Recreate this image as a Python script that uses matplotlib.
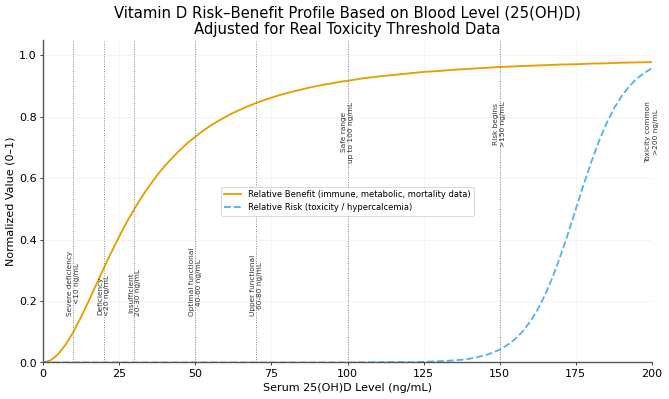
import matplotlib

matplotlib.use("Agg")

import matplotlib.pyplot as plt


# serum 25(OH)D level, ng/mL, and the values
benefit_levels = [0, 2.5, 5, 7.5, 10, 12.5, 15, 17.5, 20, 22.5, 25, 27.5, 30,
                  32.5, 35, 37.5, 40, 42.5, 45, 47.5, 50, 52.5, 55, 57.5, 60,
                  62.5, 65, 67.5, 70, 72.5, 75, 77.5, 80, 82.5, 85, 87.5, 90,
                  92.5, 95, 97.5, 100, 105, 110, 115, 120, 125, 130, 135, 140,
                  145, 150, 155, 160, 165, 170, 175, 180, 185, 190, 195, 200]
benefit = [0.000, 0.007, 0.027, 0.059, 0.100, 0.148, 0.200, 0.254, 0.308, 0.360,
           0.410, 0.457, 0.500, 0.540, 0.576, 0.610, 0.640, 0.667, 0.692, 0.715,
           0.735, 0.754, 0.771, 0.786, 0.800, 0.813, 0.824, 0.835, 0.845, 0.854,
           0.862, 0.870, 0.877, 0.883, 0.889, 0.895, 0.900, 0.905, 0.909, 0.914,
           0.917, 0.925, 0.931, 0.936, 0.941, 0.946, 0.949, 0.953, 0.956, 0.959,
           0.962, 0.964, 0.966, 0.968, 0.970, 0.971, 0.973, 0.974, 0.976, 0.977,
           0.978]

risk_levels = [0, 10, 20, 30, 40, 50, 60, 70, 80, 90, 100, 110, 120, 125, 127.5,
               130, 132.5, 135, 137.5, 140, 142.5, 145, 147.5, 150, 152.5, 155,
               157.5, 160, 162.5, 165, 167.5, 170, 172.5, 175, 177.5, 180, 182.5,
               185, 187.5, 190, 192.5, 195, 197.5, 200]
risk = [0.000, 0.000, 0.000, 0.000, 0.000, 0.000, 0.000, 0.000, 0.000, 0.000,
        0.000, 0.001, 0.001, 0.002, 0.003, 0.004, 0.005, 0.007, 0.009, 0.012,
        0.017, 0.023, 0.031, 0.042, 0.057, 0.076, 0.101, 0.133, 0.173, 0.223,
        0.281, 0.349, 0.422, 0.500, 0.578, 0.651, 0.719, 0.777, 0.827, 0.867,
        0.899, 0.924, 0.943, 0.958]

thresholds = [10, 20, 30, 50, 70, 100, 150, 200]
threshold_labels = [
    "Severe deficiency\n<10 ng/mL",
    "Deficiency\n<20 ng/mL",
    "Insufficient\n20-30 ng/mL",
    "Optimal functional\n40-60 ng/mL",
    "Upper functional\n60-80 ng/mL",
    "Safe range\nup to 100 ng/mL",
    "Risk begins\n>150 ng/mL",
    "Toxicity common\n>200 ng/mL",
]


def main():
    fig, ax = plt.subplots(figsize=(10, 5.965), dpi=66.9)
    fig.subplots_adjust(left=0.0643, right=0.9746, bottom=0.0915, top=0.8997)

    ax.plot(benefit_levels, benefit, color="#E69F00", linewidth=2,
            label="Relative Benefit (immune, metabolic, mortality data)")
    ax.plot(risk_levels, risk, color="#56B4E9", linewidth=2, linestyle="--",
            label="Relative Risk (toxicity / hypercalcemia)")

    for x, text in zip(thresholds, threshold_labels):
        ax.axvline(x, color="grey", linestyle=":", linewidth=1)
        # low thresholds get their note near the bottom, high ones near the top
        if x <= 70:
            ax.text(x, 0.15, text, rotation=90, ha="center", va="bottom",
                    fontsize=8, color="#333333", multialignment="center")
        else:
            ax.text(x, 0.85, text, rotation=90, ha="center", va="top",
                    fontsize=8, color="#333333", multialignment="center")

    ax.set_xlim(0, 200)
    ax.set_ylim(0, 1.05)
    ax.set_xticks([0, 25, 50, 75, 100, 125, 150, 175, 200])
    ax.set_yticks([0.0, 0.2, 0.4, 0.6, 0.8, 1.0])
    ax.tick_params(labelsize=12)
    ax.grid(True, linestyle=":", color="#dddddd", linewidth=0.8)
    ax.spines["top"].set_visible(False)
    ax.spines["right"].set_visible(False)
    for side in ["left", "bottom"]:
        ax.spines[side].set_color("#555555")
        ax.spines[side].set_linewidth(1.5)

    ax.set_xlabel("Serum 25(OH)D Level (ng/mL)", fontsize=12)
    ax.set_ylabel("Normalized Value (0–1)", fontsize=12)
    ax.set_title("Vitamin D Risk–Benefit Profile Based on Blood Level (25(OH)D)\n"
                 "Adjusted for Real Toxicity Threshold Data", fontsize=16, pad=6)
    ax.legend(loc="center", fontsize=9)

    fig.savefig("out.png", dpi=66.9)


if __name__ == "__main__":
    main()
